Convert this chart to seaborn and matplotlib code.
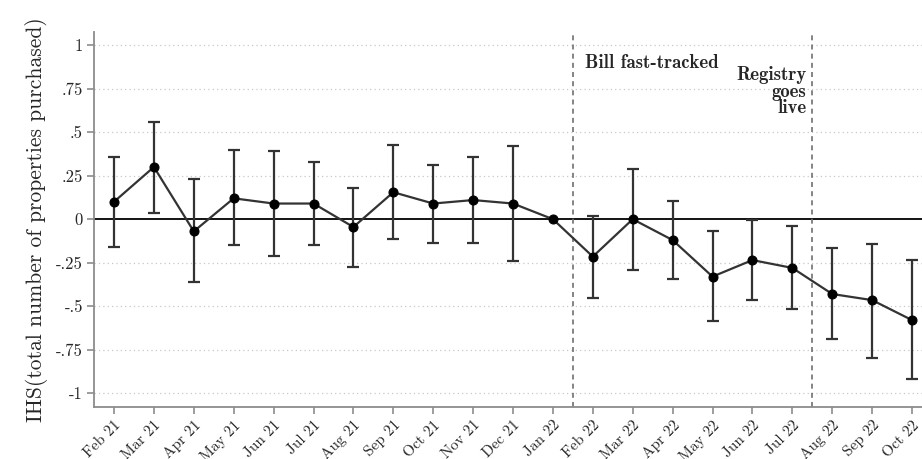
import numpy as np
import matplotlib
matplotlib.use("Agg")
import matplotlib.pyplot as plt
import pandas as pd
import seaborn as sns

# Event-study estimates, one per month (Jan 22 is the reference month)
months = ['Feb 21', 'Mar 21', 'Apr 21', 'May 21', 'Jun 21', 'Jul 21', 'Aug 21',
          'Sep 21', 'Oct 21', 'Nov 21', 'Dec 21', 'Jan 22', 'Feb 22', 'Mar 22',
          'Apr 22', 'May 22', 'Jun 22', 'Jul 22', 'Aug 22', 'Sep 22', 'Oct 22']
coef = [0.10, 0.30, -0.07, 0.12, 0.09, 0.09, -0.045, 0.155, 0.09, 0.11, 0.09, 0.0,
        -0.215, 0.0, -0.12, -0.33, -0.235, -0.28, -0.43, -0.465, -0.58]
ci_hi = [0.36, 0.56, 0.23, 0.395, 0.39, 0.33, 0.18, 0.425, 0.31, 0.355, 0.42, np.nan,
         0.02, 0.29, 0.105, -0.07, -0.005, -0.04, -0.165, -0.14, -0.235]
ci_lo = [-0.16, 0.035, -0.36, -0.15, -0.21, -0.15, -0.275, -0.115, -0.135, -0.135, -0.24, np.nan,
         -0.45, -0.29, -0.345, -0.585, -0.465, -0.515, -0.69, -0.795, -0.92]

yticks = [1, 0.75, 0.5, 0.25, 0, -0.25, -0.5, -0.75, -1]
ytick_labels = ['1', '.75', '.5', '.25', '0', '-.25', '-.5', '-.75', '-1']

events = {'Bill fast-tracked': 11.5, 'Registry\ngoes\nlive': 17.5}

df = pd.DataFrame({'month': months, 'pos': np.arange(len(months)), 'coef': coef,
                   'hi': ci_hi, 'lo': ci_lo})

sns.set_style("white")
plt.rcParams['font.family'] = ['cmr10', 'DejaVu Serif']
plt.rcParams['axes.formatter.use_mathtext'] = True

fig = plt.figure(figsize=(9.22, 4.59), dpi=100)
ax = fig.add_axes([0.102, 0.113, 0.898, 0.817])

# gridlines and zero line
for t in yticks:
    if t != 0:
        ax.axhline(t, color='#c8c8c8', lw=0.9, ls=(0, (1, 2.5)), zorder=0)
ax.axhline(0, color='black', lw=1.3, zorder=1)

# event markers
for label, x in events.items():
    ax.axvline(x, color='#707070', lw=1.2, ls=(0, (3, 2.5)), zorder=1)

# confidence intervals
ax.errorbar(df['pos'], df['coef'],
            yerr=[df['coef'] - df['lo'], df['hi'] - df['coef']],
            fmt='none', ecolor='#333333', elinewidth=1.6, capsize=4, capthick=1.6, zorder=2)

sns.lineplot(data=df, x='pos', y='coef', color='#333333', lw=1.6, marker='o',
             markersize=6.5, markerfacecolor='black', markeredgecolor='black',
             ax=ax, zorder=3)

ax.text(11.8, 0.87, 'Bill fast-tracked', fontfamily='cmb10', fontsize=13.5,
        ha='left', va='baseline')
ax.text(17.35, 0.88, 'Registry\ngoes\nlive', fontfamily='cmb10', fontsize=13.5,
        ha='right', va='top', linespacing=0.9)

ax.set_xlim(-0.5, 20.25)
ax.set_ylim(-1.08, 1.075)
ax.set_xticks(df['pos'])
ax.set_xticklabels(months, rotation=45, ha='right', rotation_mode='anchor', fontsize=11)
ax.set_yticks(yticks)
ax.set_yticklabels(ytick_labels, fontsize=12)
ax.set_xlabel('')
ax.set_ylabel('IHS(total number of properties purchased)', fontsize=15.5, labelpad=6)

sns.despine(ax=ax)
for s in ['left', 'bottom']:
    ax.spines[s].set_color('#8c8c8c')
    ax.spines[s].set_linewidth(1.3)
ax.tick_params(axis='both', which='major', direction='out', length=5, width=1.2,
               color='#8c8c8c', left=True, bottom=True, pad=3)

fig.savefig('out.png', dpi=100)
